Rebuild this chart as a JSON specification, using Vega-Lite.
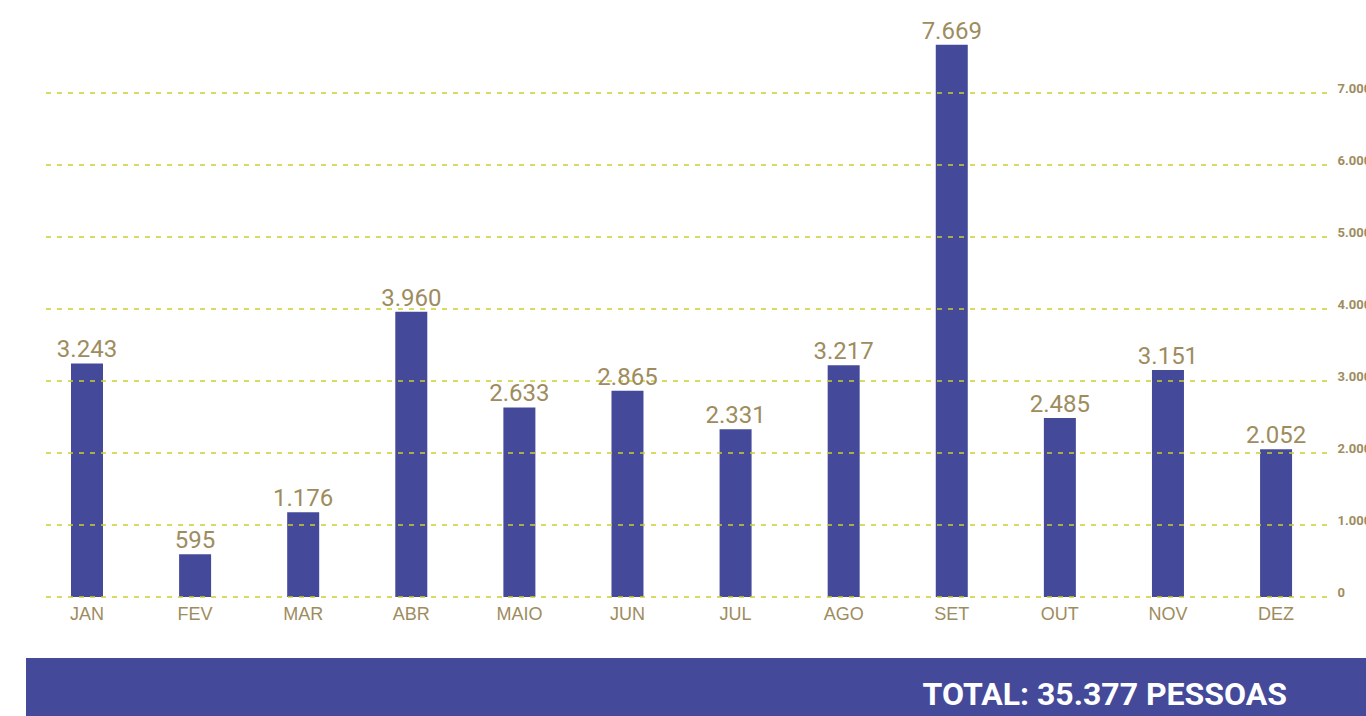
{
  "$schema": "https://vega.github.io/schema/vega-lite/v6.json",
  "autosize": {"type": "none"},
  "padding": {"left": 26, "top": 21, "right": 0, "bottom": 0},
  "width": 1340,
  "height": 695,
  "background": "white",
  "config": {
    "view": {"stroke": null},
    "locale": {"number": {"decimal": ",", "thousands": ".", "grouping": [3], "currency": ["R$", ""]}}
  },
  "datasets": {
    "meses": [
      {"mes": "JAN", "idx": 1, "valor": 3243},
      {"mes": "FEV", "idx": 2, "valor": 595},
      {"mes": "MAR", "idx": 3, "valor": 1176},
      {"mes": "ABR", "idx": 4, "valor": 3960},
      {"mes": "MAIO", "idx": 5, "valor": 2633},
      {"mes": "JUN", "idx": 6, "valor": 2865},
      {"mes": "JUL", "idx": 7, "valor": 2331},
      {"mes": "AGO", "idx": 8, "valor": 3217},
      {"mes": "SET", "idx": 9, "valor": 7669},
      {"mes": "OUT", "idx": 10, "valor": 2485},
      {"mes": "NOV", "idx": 11, "valor": 3151},
      {"mes": "DEZ", "idx": 12, "valor": 2052}
    ],
    "grade": [
      {"nivel": 0, "x0": 0.6207, "x1": 12.517},
      {"nivel": 1000, "x0": 0.6207, "x1": 12.517},
      {"nivel": 2000, "x0": 0.6207, "x1": 12.517},
      {"nivel": 3000, "x0": 0.6207, "x1": 12.517},
      {"nivel": 4000, "x0": 0.6207, "x1": 12.517},
      {"nivel": 5000, "x0": 0.6207, "x1": 12.517},
      {"nivel": 6000, "x0": 0.6207, "x1": 12.517},
      {"nivel": 7000, "x0": 0.6207, "x1": 12.517}
    ],
    "faixa": [
      {"x0": 0.4357, "x1": 12.832, "y0": -847, "y1": -1653, "tx": 12.1008, "ty": -1500, "texto": "TOTAL: 35.377 PESSOAS"}
    ]
  },
  "layer": [
    {
      "data": {"name": "meses"},
      "mark": {"type": "bar", "width": 32, "color": "#444a99"},
      "encoding": {
        "x": {"field": "idx", "type": "quantitative", "scale": {"domain": [0.4357, 12.832], "nice": false, "zero": false, "padding": 0}, "axis": null},
        "y": {
          "field": "valor", "type": "quantitative",
          "scale": {"domain": [-1653, 8000], "nice": false, "zero": false, "padding": 0},
          "axis": {
            "orient": "right", "values": [0, 1000, 2000, 3000, 4000, 5000, 6000, 7000],
            "format": ",d", "offset": -29, "ticks": false, "domain": false, "grid": false, "title": null,
            "labelFont": "Roboto", "labelFontWeight": "bold", "labelFontSize": 13,
            "labelColor": "#9e8c5e", "labelBaseline": "alphabetic", "labelAlign": "left", "labelPadding": 0
          }
        }
      }
    },
    {
      "data": {"name": "grade"},
      "mark": {"type": "rule", "color": "#cbd02a", "strokeWidth": 1.5, "strokeDash": [5, 6]},
      "encoding": {
        "x": {"field": "x0", "type": "quantitative"},
        "x2": {"field": "x1"},
        "y": {"field": "nivel", "type": "quantitative"}
      }
    },
    {
      "data": {"name": "meses"},
      "mark": {"type": "text", "font": "Roboto", "fontSize": 24, "color": "#9e8c5e", "baseline": "alphabetic", "align": "center", "dy": -6},
      "encoding": {
        "x": {"field": "idx", "type": "quantitative"},
        "y": {"field": "valor", "type": "quantitative"},
        "text": {"field": "valor", "type": "quantitative", "format": ",d"}
      }
    },
    {
      "data": {"name": "meses"},
      "mark": {"type": "text", "font": "Liberation Sans", "fontSize": 18, "color": "#9e8c5e", "baseline": "top", "align": "center", "dy": 9},
      "encoding": {
        "x": {"field": "idx", "type": "quantitative"},
        "y": {"datum": 0},
        "text": {"field": "mes", "type": "nominal"}
      }
    },
    {
      "data": {"name": "faixa"},
      "mark": {"type": "rect", "color": "#444a99"},
      "encoding": {
        "x": {"field": "x0", "type": "quantitative"},
        "x2": {"field": "x1"},
        "y": {"field": "y0", "type": "quantitative"},
        "y2": {"field": "y1"}
      }
    },
    {
      "data": {"name": "faixa"},
      "mark": {"type": "text", "font": "Roboto", "fontWeight": "bold", "fontSize": 32, "color": "white", "baseline": "alphabetic", "align": "right"},
      "encoding": {
        "x": {"field": "tx", "type": "quantitative"},
        "y": {"field": "ty", "type": "quantitative"},
        "text": {"field": "texto", "type": "nominal"}
      }
    }
  ]
}
